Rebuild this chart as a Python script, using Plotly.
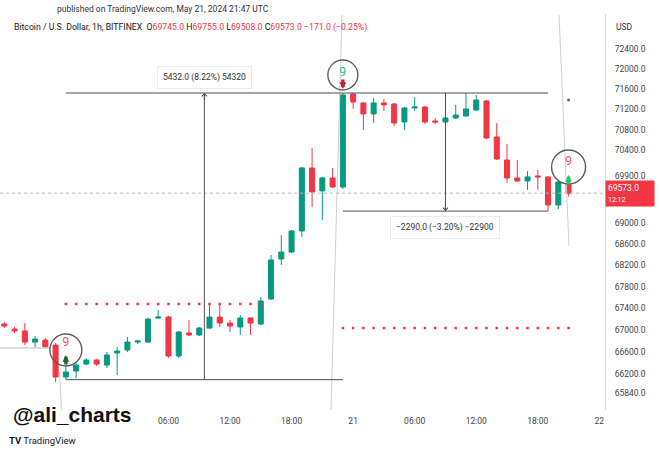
import numpy as np
import plotly.graph_objects as go
from datetime import datetime, timedelta

# ---------------- data ----------------
base = datetime(2024, 5, 20, 0, 0)
hours = list(range(-10, 46))  # hourly candles, offset from 2024-05-20 00:00 UTC
opens = [67109, 67017, 66981, 66777, 66814, 66722, 66136, 66245, 66373, 66447,
         66355, 66575, 66630, 66777, 66777, 67220, 67238, 66520, 66944, 66907,
         67035, 67238, 67128, 67054, 67220, 67109, 67574, 68323, 68454, 68852,
         70058, 69616, 69865, 69692, 71501, 71324, 71108, 71324, 71304, 70951,
         71225, 71245, 70971, 70951, 71030, 71069, 71186, 71363, 70659, 70212,
         69865, 69807, 69904, 69885, 69347, 69745]
highs = [67146, 67054, 67128, 66888, 66850, 66760, 66355, 66410, 66480, 66465,
         66593, 66685, 66869, 66814, 67220, 67369, 67260, 66980, 67183, 67054,
         67500, 67462, 67183, 67276, 67238, 67612, 68398, 68776, 68871, 70077,
         70445, 69885, 70058, 71520, 71520, 71343, 71422, 71402, 71324, 71245,
         71441, 71265, 71030, 71049, 71285, 71520, 71481, 71382, 70932, 70522,
         70212, 70000, 70019, 69904, 69807, 69755]
lows = [67035, 66944, 66722, 66685, 66670, 66046, 66088, 66118, 66355, 66336,
        66300, 66173, 66593, 66740, 66759, 67201, 66484, 66484, 66888, 66888,
        67017, 67054, 66962, 66907, 66907, 67090, 67556, 68210, 68436, 68738,
        69309, 69061, 69673, 69654, 71206, 70795, 70932, 71166, 70873, 70795,
        71166, 70912, 70912, 70932, 71010, 71049, 71166, 70620, 70212, 69769,
        69788, 69635, 69635, 69230, 69270, 69508]
closes = [67072, 66981, 66777, 66832, 66692, 66136, 66228, 66355, 66447, 66373,
          66538, 66612, 66777, 66796, 67201, 67238, 66520, 66962, 66907, 67035,
          67238, 67128, 67072, 67220, 67128, 67537, 68304, 68454, 68852, 70058,
          69597, 69865, 69692, 71481, 71343, 71108, 71324, 71285, 70932, 71225,
          71245, 70951, 70951, 71030, 71088, 71206, 71382, 70639, 70232, 69865,
          69807, 69885, 69885, 69347, 69788, 69573]

last_price = 69573.0
# TD-sequential support / resistance dotted levels
level1_hours = list(range(-4, 16))
level1_price = 67481
level2_hours = list(range(23, 46))
level2_price = 67035

# price-range measurements
meas_top = 71520
meas1 = dict(h0=-4, h1=23, low=66088, label="5432.0 (8.22%) 54320")
meas2 = dict(h0=23, h1=43, low=69230, label="\u22122290.0 (\u22123.20%) \u221222900")

# "9" setup markers: hour, circle centre price, "9" price, arrow tip price, dir, colours, circle size
nines = [
    dict(h=-4, c=66630, t=66759, a=66539, up=True, tc="#F7525F", ac="#1B6B2A", s=32),
    dict(h=23, c=71876, t=71915, a=71599, up=False, tc="#3FB59E", ac="#C4232F", s=30),
    dict(h=45, c=70077, t=70173, a=69922, up=True, tc="#F7525F", ac="#22C55E", s=34),
]

# axis ticks
x_tick_hours = [6, 12, 18, 24, 30, 36, 42, 48]
x_tick_text = ["06:00", "12:00", "18:00", "21", "06:00", "12:00", "18:00", "22"]
y_tick_vals = [72400, 72000, 71600, 71200, 70800, 70400, 69900, 69000, 68600,
               68200, 67800, 67400, 67000, 66600, 66200, 65840]
y_tick_text = [f"{v:.1f}" for v in y_tick_vals]

x_range_hours = [-10.42, 48.55]
y_range = [65538, 73094]

GREEN = "#089981"
RED = "#F23645"


def ts(h):
    return (base + timedelta(hours=h)).strftime("%Y-%m-%d %H:%M:%S")


times = [ts(h) for h in hours]

fig = go.Figure()

# faint drawing lines
faint = [
    ([21.84, 22.91], [65538, 73074]),
    ([44.07, 45.04], [73074, 68568]),
    ([-4.62, -4.42], [66228, 65538]),
]
for hx, py in faint:
    fig.add_trace(go.Scatter(x=[ts(v) for v in hx], y=py, mode="lines",
                             line=dict(color="#cfcfcf", width=1), hoverinfo="skip"))

# small horizontal grey segment at left
fig.add_trace(go.Scatter(x=[ts(-10.42), ts(-5.45)], y=[66667, 66667], mode="lines",
                         line=dict(color="#bdbdbd", width=1), hoverinfo="skip"))

# last price line
fig.add_trace(go.Scatter(x=[ts(x_range_hours[0]), ts(x_range_hours[1])],
                         y=[last_price, last_price], mode="lines",
                         line=dict(color="#b8b8b8", width=1, dash="dot"), hoverinfo="skip"))

# dotted levels
fig.add_trace(go.Scatter(x=[ts(h) for h in level1_hours], y=[level1_price] * len(level1_hours),
                         mode="markers", marker=dict(symbol="square", size=2.5, color=RED),
                         hoverinfo="skip"))
fig.add_trace(go.Scatter(x=[ts(h) for h in level2_hours], y=[level2_price] * len(level2_hours),
                         mode="markers", marker=dict(symbol="square", size=2.5, color=RED),
                         hoverinfo="skip"))

# measurement lines
LC = "#4f4f4f"
for m in (meas1, meas2):
    fig.add_trace(go.Scatter(x=[ts(m["h0"]), ts(m["h1"])], y=[meas_top, meas_top], mode="lines",
                             line=dict(color=LC, width=1), hoverinfo="skip"))
    fig.add_trace(go.Scatter(x=[ts(m["h0"]), ts(m["h1"])], y=[m["low"], m["low"]], mode="lines",
                             line=dict(color=LC, width=1), hoverinfo="skip"))
    hm = (m["h0"] + m["h1"]) / 2
    fig.add_trace(go.Scatter(x=[ts(hm), ts(hm)], y=[m["low"], meas_top], mode="lines",
                             line=dict(color=LC, width=1), hoverinfo="skip"))

# candles
fig.add_trace(go.Candlestick(
    x=times, open=opens, high=highs, low=lows, close=closes,
    increasing=dict(line=dict(color=GREEN, width=1), fillcolor=GREEN),
    decreasing=dict(line=dict(color=RED, width=1), fillcolor=RED),
    whiskerwidth=0, hoverinfo="skip"))

# small dot
fig.add_trace(go.Scatter(x=[ts(45)], y=[71382], mode="markers",
                         marker=dict(size=3, color="#666"), hoverinfo="skip"))

# circles with 9
for n in nines:
    fig.add_trace(go.Scatter(x=[ts(n["h"])], y=[n["c"]], mode="markers",
                             marker=dict(symbol="circle-open", size=n["s"], color="#5e5e5e",
                                         line=dict(width=1.4, color="#5e5e5e")),
                             hoverinfo="skip"))
    fig.add_trace(go.Scatter(x=[ts(n["h"])], y=[n["t"]], mode="text", text=["9"],
                             textfont=dict(size=12.5, color=n["tc"], family="Roboto"),
                             hoverinfo="skip"))

annotations = []
for n in nines:
    annotations.append(dict(x=ts(n["h"]), y=np.log10(n["a"]), xref="x", yref="y",
                            text="", showarrow=True, arrowhead=2, arrowsize=0.4,
                            arrowwidth=3.4, arrowcolor=n["ac"], ax=0,
                            ay=11 if n["up"] else -11))

# arrowheads on measurement verticals
hm1 = (meas1["h0"] + meas1["h1"]) / 2
hm2 = (meas2["h0"] + meas2["h1"]) / 2
annotations.append(dict(x=ts(hm1), y=np.log10(meas_top), xref="x", yref="y", text="",
                        showarrow=True, arrowhead=4, arrowsize=1, arrowwidth=1,
                        arrowcolor=LC, ax=0, ay=8))
annotations.append(dict(x=ts(hm2), y=np.log10(meas2["low"]), xref="x", yref="y", text="",
                        showarrow=True, arrowhead=4, arrowsize=1, arrowwidth=1,
                        arrowcolor=LC, ax=0, ay=-8))

# measurement labels
annotations.append(dict(x=ts(hm1), y=np.log10(meas_top), xref="x", yref="y",
                        text=meas1["label"], showarrow=False, yshift=16,
                        bgcolor="white", bordercolor="#ececec", borderwidth=1, borderpad=5,
                        font=dict(size=8.5, color="#333", family="Roboto")))
annotations.append(dict(x=ts(hm2), y=np.log10(meas2["low"]), xref="x", yref="y",
                        text=meas2["label"], showarrow=False, yshift=-16,
                        bgcolor="white", bordercolor="#ececec", borderwidth=1, borderpad=5,
                        font=dict(size=8.5, color="#333", family="Roboto")))

# paper-positioned texts
PW, PT, PB = 605.0, 14.0, 410.0


def pxx(x):
    return x / PW


def pyy(y):
    return (PB - y) / (PB - PT)


annotations.append(dict(xref="paper", yref="paper", x=pxx(55), y=pyy(8.5), xanchor="left",
                        yanchor="middle", showarrow=False,
                        text="published on TradingView.com, May 21, 2024 21:47 UTC",
                        font=dict(size=8.5, color="#333", family="Roboto")))
rs = "<span style='color:%s'>%s</span>"
header = ("Bitcoin / U.S. Dollar, 1h, BITFINEX  O" + rs % (RED, "69745.0") +
          " H" + rs % (RED, "69755.0") + " L" + rs % (RED, "69508.0") +
          " C" + rs % (RED, "69573.0") + " " + rs % (RED, "\u2212171.0 (\u22120.25%)"))
annotations.append(dict(xref="paper", yref="paper", x=pxx(12), y=pyy(27), xanchor="left",
                        yanchor="middle", showarrow=False, text=header,
                        font=dict(size=8.7, color="#131722", family="Roboto")))
annotations.append(dict(xref="paper", yref="paper", x=pxx(625), y=pyy(27), xanchor="center",
                        yanchor="middle", showarrow=False, text="USD",
                        font=dict(size=8.5, color="#333", family="Roboto")))
annotations.append(dict(xref="paper", yref="y", x=1.0, y=np.log10(last_price), xanchor="left",
                        yanchor="middle", showarrow=False,
                        text="69573.0<br><span style='font-size:7px'>12:12</span>",
                        bgcolor=RED, borderpad=2, width=44, align="left",
                        font=dict(size=8.5, color="white", family="Roboto")))
annotations.append(dict(xref="paper", yref="paper", x=pxx(11), y=pyy(414), xanchor="left",
                        yanchor="middle", showarrow=False, text="<b>@ali_charts</b>",
                        font=dict(size=21, color="#111", family="Liberation Sans")))
annotations.append(dict(xref="paper", yref="paper", x=pxx(7), y=pyy(440), xanchor="left",
                        yanchor="middle", showarrow=False,
                        text="<b>TV</b> TradingView",
                        font=dict(size=9.5, color="#131722", family="Roboto")))

fig.update_layout(
    width=660, height=452,
    margin=dict(l=0, r=660 - PW, t=PT, b=452 - PB),
    paper_bgcolor="white", plot_bgcolor="white",
    showlegend=False, hovermode=False,
    annotations=annotations,
    xaxis=dict(type="date", range=[ts(x_range_hours[0]), ts(x_range_hours[1])],
               rangeslider=dict(visible=False), showgrid=False, zeroline=False,
               showline=False, ticks="", ticklabelstandoff=4,
               tickvals=[ts(h) for h in x_tick_hours], ticktext=x_tick_text,
               tickfont=dict(size=8.5, color="#444", family="Roboto")),
    yaxis=dict(type="log", side="right", range=[np.log10(y_range[0]), np.log10(y_range[1])],
               showgrid=False, zeroline=False, showline=True, linecolor="#dcdcdc",
               ticks="", ticklabelstandoff=7,
               tickvals=y_tick_vals, ticktext=y_tick_text,
               tickfont=dict(size=8.5, color="#444", family="Roboto")),
)

fig.write_html("out.html",
               config={"displayModeBar": False},
               post_script="document.body.style.margin='0px';"
                           "document.body.style.overflow='hidden';")
